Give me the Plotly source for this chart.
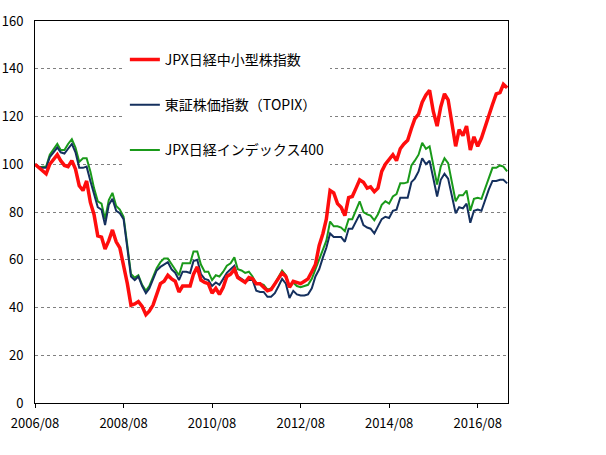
import pandas as pd
import plotly.graph_objects as go

months = pd.date_range("2006-08-01", periods=129, freq="MS")

series_names = ["JPX日経中小型株指数", "東証株価指数（TOPIX）", "JPX日経インデックス400"]

jpx_small_mid = [
    100, 98.5, 97.5, 96, 100, 102, 104, 101.5, 99.5, 99,
    101.5, 98, 91, 89, 93, 84, 79, 70, 69.5, 64.5,
    68, 72.5, 67.5, 65, 58, 50, 41, 41.5, 42.5, 40.5,
    37, 38.5, 41, 46, 50, 51, 53.5, 52, 51, 46.5,
    49, 49, 49, 54, 57, 51.5, 50.5, 50, 46, 48,
    45.5, 48.5, 53, 54, 56, 52.5, 51.5, 50.5, 52.5, 52,
    50, 50, 48.5, 47, 47.5, 50, 52, 54.5, 53, 48.5,
    51, 50.5, 50, 51, 52, 55, 58, 66, 71, 77,
    89, 88, 83.5, 82, 78.5, 86, 86.5, 90, 93.5, 92.5,
    90, 90.5, 88.5, 90, 97, 100, 102, 104, 101.5, 106.5,
    108.5, 110, 115, 119, 121, 126, 129, 131, 122, 116,
    124, 129.5, 127, 118, 107.5, 114.5, 112, 116, 106, 111.5,
    107.5, 111, 116, 121, 125, 129.5, 130, 133.5, 132,
]

topix = [
    100, 99, 98.5, 98.5, 103, 105, 107, 105, 104.5, 106.5,
    108.5, 105, 98.5, 98.5, 99, 93, 87, 82, 81, 74.5,
    83, 85.5, 80.5, 79.5, 77, 65, 53, 51.5, 53, 49,
    46, 48, 52, 55.5, 57, 58, 59, 56, 54.5, 51.5,
    55, 55, 54.5, 59.5, 60, 54, 52, 51.5, 49, 50.5,
    49.5, 52, 54.5, 56, 57.5, 53, 52, 51, 51.5, 51.5,
    47, 46.5, 46.5, 44.5, 44.5, 46, 49, 52, 50, 44,
    47, 45.5, 45, 45, 45.5, 48, 53, 56, 61, 65,
    71, 69.5, 69.5, 69.5, 67.5, 73, 73, 76, 79, 74.5,
    73.5, 73, 71, 74, 77, 78, 77.5, 80.5, 81, 86,
    86, 86, 92.5, 94, 97, 102.5, 100, 101.5, 94, 86.5,
    93.5, 96, 94, 86, 79.5, 82, 81.5, 83.5, 75.5, 80.5,
    81, 80.5, 85, 89.5, 93, 93, 93.5, 93.5, 92,
]

jpx400 = [
    100, 98.5, 99, 99, 104, 106.5, 108.5, 106, 106, 108.5,
    110.5, 107, 101, 102.5, 102.5, 97, 90, 84.5, 83.5, 77,
    85, 88, 82.5, 81, 78, 66, 54, 52.5, 53.5, 49.5,
    47, 49, 53, 56.5, 59, 60.5, 60.5, 58, 56, 53.5,
    58.5, 58.5, 58.5, 63.5, 63.5, 58, 55, 55, 51.5, 53.5,
    53, 55, 57.5, 58.5, 61, 56, 55.5, 54.5, 55, 53,
    50, 50, 49.5, 47.5, 48, 50, 53, 55.5, 53.5, 48.5,
    50.5, 49, 48.5, 49, 49.5, 52, 56, 60, 64, 68,
    76, 74, 74, 73.5, 72, 77, 77, 80.5, 84.5, 80,
    79, 78.5, 76.5, 79, 83, 84.5, 83.5, 86.5, 87.5, 92,
    92, 92.5, 99.5, 101.5, 104, 109, 106.5, 107.5, 99, 91.5,
    99, 102.5, 100.5, 93, 84.5, 87, 87, 89, 80.5, 85.5,
    86, 85.5, 89.5, 94.5, 98.5, 98.5, 99.5, 99, 97,
]

y_ticks = [0, 20, 40, 60, 80, 100, 120, 140, 160]
x_ticks = ["2006-08-01", "2008-08-01", "2010-08-01", "2012-08-01", "2014-08-01", "2016-08-01"]
x_tick_labels = ["2006/08", "2008/08", "2010/08", "2012/08", "2014/08", "2016/08"]

font_family = "Noto Sans CJK JP"

fig = go.Figure()
fig.add_trace(go.Scatter(x=months, y=jpx400, mode="lines", name=series_names[2],
                         line=dict(color="#1a9a1a", width=2), legendgroup="c", legendrank=3))
fig.add_trace(go.Scatter(x=months, y=topix, mode="lines", name=series_names[1],
                         line=dict(color="#15305e", width=2), legendgroup="b", legendrank=2))
fig.add_trace(go.Scatter(x=months, y=jpx_small_mid, mode="lines", name=series_names[0],
                         line=dict(color="#ff0d0d", width=3.5), legendgroup="a", legendrank=1))

fig.update_layout(
    width=606, height=455,
    margin=dict(l=35, r=98, t=21, b=52),
    paper_bgcolor="white", plot_bgcolor="white",
    font=dict(family=font_family, size=13, color="black"),
    showlegend=True,
    legend=dict(x=0.19, y=0.94, xanchor="left", yanchor="top",
                bgcolor="white", font=dict(size=14, family=font_family),
                tracegroupgap=24, itemwidth=30),
)
fig.update_xaxes(
    type="date", range=["2006-08-01", "2017-04-08"],
    tickvals=x_ticks, ticktext=x_tick_labels,
    showline=True, linecolor="black", linewidth=1, mirror=True,
    ticks="outside", ticklen=4, tickcolor="black",
    showgrid=False, zeroline=False, automargin=False,
    ticklabelstandoff=4,
    tickfont=dict(size=13),
)
fig.update_yaxes(
    range=[0, 160], tickvals=y_ticks,
    showline=True, linecolor="black", linewidth=1, mirror=True,
    ticks="", showgrid=True, gridcolor="#808080", griddash="dot", gridwidth=1,
    zeroline=False, ticklabelstandoff=8, automargin=False,
    tickfont=dict(size=13),
)

fig.write_html(
    "out.html",
    config={"displayModeBar": False},
    post_script="document.body.style.margin='0';document.body.style.overflow='hidden';",
)
